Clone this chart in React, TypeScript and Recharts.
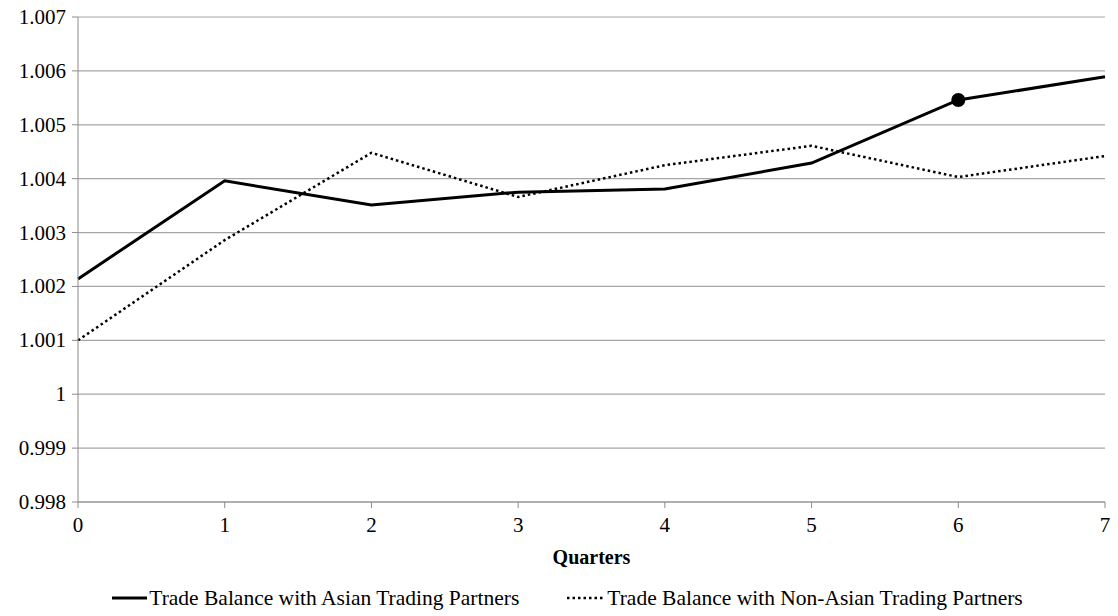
import React from "react";
import {
  LineChart,
  Line,
  XAxis,
  YAxis,
  CartesianGrid,
  Legend,
} from "recharts";

const quarters = [0, 1, 2, 3, 4, 5, 6, 7];
const asianValues = [1.00214, 1.00396, 1.00351, 1.00375, 1.00381, 1.00429, 1.00546, 1.00589];
const nonAsianValues = [1.001, 1.00286, 1.00448, 1.00366, 1.00425, 1.00461, 1.00403, 1.00442];
const yTicks = [0.998, 0.999, 1, 1.001, 1.002, 1.003, 1.004, 1.005, 1.006, 1.007];
const markedQuarter = 6;

const data = quarters.map((q, i) => ({
  quarter: q,
  asian: asianValues[i],
  nonAsian: nonAsianValues[i],
}));

const FONT = "Times New Roman, Liberation Serif, serif";

const fmtY = (v: number) => String(parseFloat(v.toFixed(3)));

const XTick = (props: any) => {
  const { x, y, payload } = props;
  return (
    <text x={x} y={y + 22} textAnchor="middle" fontFamily={FONT} fontSize={21} fill="#000">
      {payload.value}
    </text>
  );
};

const YTick = (props: any) => {
  const { x, y, payload } = props;
  return (
    <text x={x - 4} y={y + 7} textAnchor="end" fontFamily={FONT} fontSize={21} fill="#000">
      {fmtY(payload.value)}
    </text>
  );
};

const renderDot = (props: any) => {
  const { cx, cy, index } = props;
  if (index !== markedQuarter) return <g key={`d-${index}`} />;
  return <circle key={`d-${index}`} cx={cx} cy={cy} r={7} fill="#000" />;
};

const LegendContent = () => (
  <div
    style={{
      display: "flex",
      justifyContent: "center",
      gap: 48,
      fontFamily: FONT,
      fontSize: 21.5,
      color: "#000",
      paddingLeft: 30,
      lineHeight: "24px",
    }}
  >
    <div style={{ display: "flex", alignItems: "center" }}>
      <svg width={35} height={10}>
        <line x1={0} y1={5} x2={35} y2={5} stroke="#000" strokeWidth={3} />
      </svg>
      <span style={{ marginLeft: 2 }}>Trade Balance with Asian Trading Partners</span>
    </div>
    <div style={{ display: "flex", alignItems: "center" }}>
      <svg width={36} height={10}>
        <line x1={0} y1={5} x2={36} y2={5} stroke="#000" strokeWidth={2.5} strokeDasharray="2.5 3" />
      </svg>
      <span style={{ marginLeft: 4 }}>Trade Balance with Non-Asian Trading Partners</span>
    </div>
  </div>
);

export default function App() {
  return (
    <div style={{ position: "absolute", left: 0, top: 0, background: "#fff" }}>
      <LineChart
        width={1118}
        height={616}
        data={data}
        margin={{ top: 17, right: 13, left: 0, bottom: 0 }}
      >
        <CartesianGrid vertical={false} stroke="#a6a6a6" strokeWidth={1.2} />
        <XAxis
          dataKey="quarter"
          type="number"
          domain={[0, 7]}
          ticks={quarters}
          stroke="#8c8c8c"
          tickSize={6}
          height={84}
          tick={<XTick />}
          label={{
            value: "Quarters",
            position: "insideBottom",
            offset: 22,
            fontFamily: FONT,
            fontSize: 20,
            fontWeight: "bold",
            fill: "#000",
          }}
        />
        <YAxis
          type="number"
          domain={[0.998, 1.007]}
          ticks={yTicks}
          width={78}
          stroke="#8c8c8c"
          tickSize={6}
          interval={0}
          tick={<YTick />}
        />
        <Legend verticalAlign="bottom" height={30} content={<LegendContent />} />
        <Line
          type="linear"
          dataKey="asian"
          stroke="#000"
          strokeWidth={3}
          dot={renderDot}
          activeDot={false}
          isAnimationActive={false}
        />
        <Line
          type="linear"
          dataKey="nonAsian"
          stroke="#000"
          strokeWidth={2.5}
          strokeDasharray="2.5 3"
          dot={false}
          activeDot={false}
          isAnimationActive={false}
        />
      </LineChart>
    </div>
  );
}
